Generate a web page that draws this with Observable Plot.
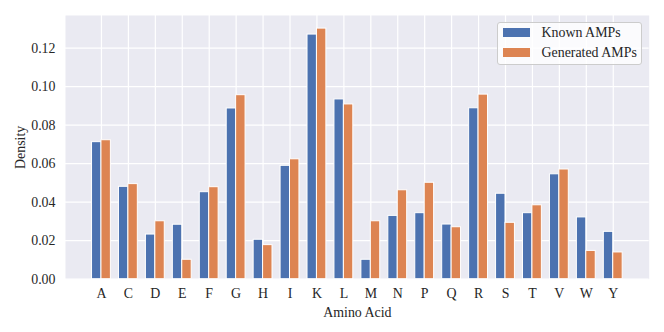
<!DOCTYPE html>
<html>
<head>
<meta charset="utf-8">
<script src="https://cdn.jsdelivr.net/npm/d3@7"></script>
<script src="https://cdn.jsdelivr.net/npm/@observablehq/plot@0.6"></script>
<style>
  html, body { margin: 0; padding: 0; background: #fff; }
  #wrap { position: relative; width: 664px; height: 332px; font-family: "Liberation Serif", "DejaVu Serif", serif; }
  #legend { position: absolute; left: 497px; top: 21.7px; width: 143.3px; height: 41.3px;
    background: rgba(255,255,255,0.8); border: 1px solid #cccccc; border-radius: 3px; }
  .sw { position: absolute; left: 4.7px; width: 27.3px; height: 9px; }
  .lt { position: absolute; left: 43.5px; font-size: 13.9px; line-height: 13.9px; color: #262626; white-space: nowrap; }
</style>
</head>
<body>
<div id="wrap">
  <div id="chart"></div>
  <div id="legend"></div>
</div>
<script>
const aminoAcids = ["A","C","D","E","F","G","H","I","K","L","M","N","P","Q","R","S","T","V","W","Y"];
const knownAMPs =     [0.0712,0.0480,0.0232,0.0283,0.0452,0.0887,0.0205,0.0589,0.1271,0.0934,0.0101,0.0329,0.0343,0.0284,0.0888,0.0444,0.0343,0.0545,0.0321,0.0246];
const generatedAMPs = [0.0722,0.0494,0.0301,0.0101,0.0478,0.0956,0.0177,0.0623,0.1302,0.0908,0.0301,0.0462,0.0501,0.0270,0.0959,0.0293,0.0384,0.0570,0.0147,0.0139];
const seriesNames = ["Known AMPs", "Generated AMPs"];
const seriesColors = ["#4C72B0", "#DD8452"];
const yTicks = [0, 0.02, 0.04, 0.06, 0.08, 0.10, 0.12];
const barWidth = 0.35;

const idx = aminoAcids.map((_, i) => i);
const rows = [];
aminoAcids.forEach((a, i) => {
  rows.push({i, a, s: seriesNames[0], v: knownAMPs[i], x1: i - barWidth, x2: i});
  rows.push({i, a, s: seriesNames[1], v: generatedAMPs[i], x1: i, x2: i + barWidth});
});

const chart = Plot.plot({
  width: 664,
  height: 332,
  marginLeft: 65,
  marginRight: 15.3,
  marginTop: 15,
  marginBottom: 53.3,
  style: {fontFamily: "Liberation Serif, DejaVu Serif, serif", fontSize: "13.9px", color: "#262626", background: "#fff"},
  x: {domain: [-1.335, aminoAcids.length - 1 + 1.335]},
  y: {domain: [0, 0.137]},
  color: {domain: seriesNames, range: seriesColors},
  marks: [
    Plot.frame({fill: "#EAEAF2", stroke: null}),
    Plot.ruleX(idx, {stroke: "#fff", strokeWidth: 1.2}),
    Plot.ruleY(yTicks, {stroke: "#fff", strokeWidth: 1.2}),
    Plot.rectY(rows, {x1: "x1", x2: "x2", y1: 0, y2: "v", fill: "s", stroke: "#fff", strokeWidth: 1}),
    Plot.axisX({ticks: idx, tickFormat: i => aminoAcids[i], tickSize: 0, tickPadding: 9,
      label: "Amino Acid", labelAnchor: "center", labelArrow: "none", labelOffset: 38, fontSize: 13.9}),
    Plot.axisY({ticks: yTicks, tickFormat: d3.format(".2f"), tickSize: 0, tickPadding: 10,
      label: "Density", labelAnchor: "center", labelArrow: "none", labelOffset: 50, fontSize: 13.9})
  ]
});
document.getElementById("chart").appendChild(chart);

const legend = document.getElementById("legend");
seriesNames.forEach((n, k) => {
  const sw = document.createElement("div");
  sw.className = "sw";
  sw.style.top = (5 + k * 20) + "px";
  sw.style.background = seriesColors[k];
  const t = document.createElement("div");
  t.className = "lt";
  t.style.top = (3.2 + k * 20) + "px";
  t.textContent = n;
  legend.appendChild(sw);
  legend.appendChild(t);
});
</script>
</body>
</html>
